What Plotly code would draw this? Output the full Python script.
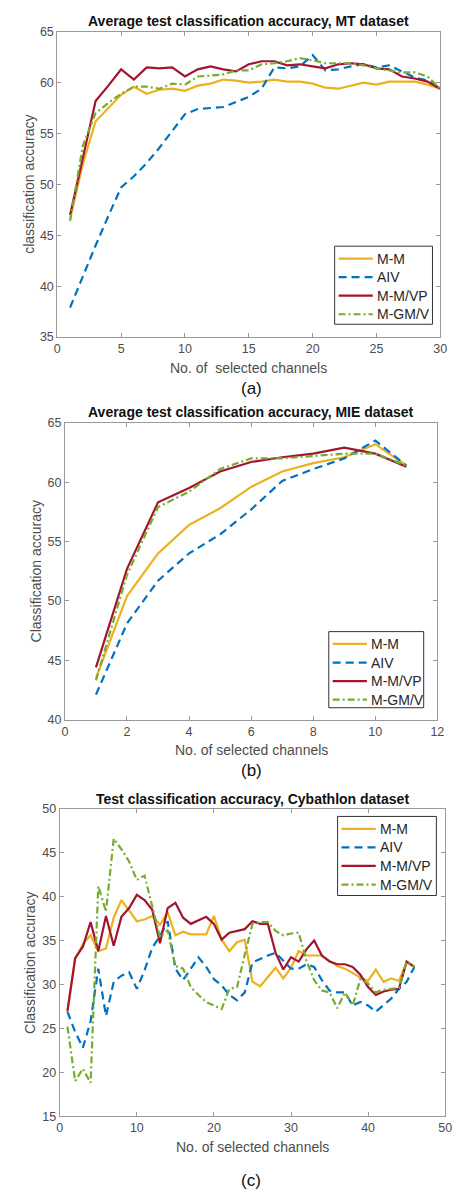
import plotly.graph_objects as go

# ---- data -------------------------------------------------------------
series_names = ["M-M", "AIV", "M-M/VP", "M-GM/V"]

mt_channels = list(range(1, 31))
mt_mm = [46.6, 52.0, 56.2, 57.5, 58.8, 59.6, 58.9, 59.3, 59.4, 59.2,
         59.7, 59.9, 60.3, 60.2, 60.0, 60.1, 60.3, 60.1, 60.1, 59.9,
         59.5, 59.4, 59.7, 60.0, 59.8, 60.1, 60.1, 60.1, 59.8, 59.4]
mt_aiv = [37.9, 41.0, 44.0, 46.9, 49.7, 50.8, 52.1, 53.6, 55.3, 56.9,
          57.4, 57.5, 57.6, 58.1, 58.6, 59.4, 61.5, 61.4, 61.6, 62.7,
          61.2, 61.3, 61.6, 61.8, 61.5, 61.7, 61.1, 60.5, 60.2, 59.4]
mt_mmvp = [47.0, 52.5, 58.2, 59.7, 61.3, 60.3, 61.5, 61.4, 61.5, 60.6,
           61.3, 61.6, 61.3, 61.1, 61.8, 62.1, 62.1, 61.7, 61.8, 61.6,
           61.4, 61.8, 61.9, 61.8, 61.4, 61.3, 60.6, 60.4, 60.1, 59.4]
mt_mgmv = [46.4, 53.8, 57.0, 58.0, 58.9, 59.6, 59.6, 59.4, 59.9, 59.8,
           60.6, 60.7, 60.8, 61.2, 61.2, 61.8, 61.9, 62.1, 62.4, 62.2,
           61.9, 61.9, 61.9, 61.7, 61.4, 61.2, 61.0, 61.0, 60.6, 59.4]

mie_channels = list(range(1, 12))
mie_mm = [43.5, 50.4, 54.0, 56.4, 57.8, 59.6, 60.9, 61.6, 62.1, 63.2, 61.4]
mie_aiv = [42.1, 48.1, 51.7, 54.0, 55.6, 57.7, 60.1, 61.1, 62.0, 63.5, 61.4]
mie_mmvp = [44.4, 52.7, 58.3, 59.5, 60.9, 61.7, 62.1, 62.4, 62.9, 62.4, 61.3]
mie_mgmv = [43.3, 52.2, 57.9, 59.2, 61.1, 62.0, 62.0, 62.2, 62.4, 62.4, 61.4]

cy_channels = list(range(1, 47))
cy_mm = [26.9, 32.9, 34.6, 35.6, 33.8, 34.1, 37.6, 39.6, 38.4, 37.2,
         37.4, 37.8, 36.8, 38.2, 35.6, 36.0, 35.7, 35.7, 35.7, 37.8,
         35.1, 33.8, 34.8, 35.1, 30.3, 29.8, 30.8, 31.9, 30.7, 31.9,
         33.8, 33.3, 33.3, 33.3, 32.7, 32.1, 31.8, 31.3, 30.8, 30.4,
         31.7, 30.3, 30.7, 30.4, 32.5, 32.0]
cy_aiv = [26.9, 24.6, 22.8, 25.8, 31.8, 26.4, 30.3, 31.0, 31.4, 29.5,
          31.6, 34.2, 35.5, 37.2, 31.8, 30.5, 31.8, 33.1, 32.0, 30.6,
          29.9, 28.8, 28.2, 29.1, 32.5, 32.9, 33.3, 33.6, 32.7, 31.8,
          31.8, 32.3, 32.0, 30.5, 29.3, 29.1, 29.1, 27.6, 28.0, 27.6,
          26.9, 27.6, 28.4, 29.5, 30.3, 32.0]
cy_mmvp = [27.0, 33.0, 34.3, 37.1, 33.8, 37.8, 34.4, 37.7, 38.7, 40.2,
           39.6, 38.5, 34.7, 38.7, 39.3, 37.6, 36.9, 37.3, 37.7, 36.9,
           35.1, 35.9, 36.1, 36.3, 37.2, 36.9, 36.9, 33.6, 31.7, 33.1,
           32.6, 34.0, 35.0, 33.3, 32.6, 32.3, 32.3, 32.0, 31.1, 29.7,
           28.8, 29.2, 29.4, 29.5, 32.6, 32.0]
cy_mgmv = [25.2, 19.0, 20.4, 18.8, 41.2, 38.3, 46.6, 45.4, 44.0, 41.9,
           42.4, 38.8, 35.4, 36.2, 32.1, 31.8, 29.7, 28.8, 28.0, 27.6,
           27.2, 29.5, 29.7, 33.4, 36.9, 37.1, 37.1, 36.1, 35.6, 35.8,
           35.9, 32.7, 30.5, 29.3, 29.1, 27.3, 29.1, 27.6, 30.6, 30.1,
           29.1, 29.4, 29.5, 29.6, 32.6, 32.0]

# ---- styling ----------------------------------------------------------
COLORS = ["#EDB120", "#0072BD", "#A2142F", "#77AC30"]
DASHES = ["solid", "8px,5px", "solid", "7px,3px,2px,3px"]
FONT = "Liberation Sans, Arial, sans-serif"
TEXT_COL = "#262626"
TICK_COL = "#4d4d4d"
AXIS_COL = "#9a9a9a"
LINE_W = 2.2

W, H = 461, 1199


def px_x(p):
    return p / W


def px_y(p):
    return 1 - p / H


panels = [
    dict(x=mt_channels, ys=[mt_mm, mt_aiv, mt_mmvp, mt_mgmv],
         box=(55.5, 447, 25, 334), xr=[0, 30], xd=5, yr=[35, 65], yd=5,
         title="Average test classification accuracy, MT dataset", ty=14,
         xlab="No. of  selected channels", xly=365, ylab="classification accuracy",
         ylx=27, tag="(a)", tagy=386, leg=(339, 242, 100, 79)),
    dict(x=mie_channels, ys=[mie_mm, mie_aiv, mie_mmvp, mie_mgmv],
         box=(63.3, 444, 420.7, 721), xr=[0, 12], xd=2, yr=[40, 65], yd=5,
         title="Average test classification accuracy, MIE dataset", ty=410,
         xlab="No. of selected channels", xly=752, ylab="Classification accuracy",
         ylx=34, tag="(b)", tagy=773, leg=(333, 632, 97, 77)),
    dict(x=cy_channels, ys=[cy_mm, cy_aiv, cy_mmvp, cy_mgmv],
         box=(58, 452, 811.3, 1122.3), xr=[0, 50], xd=10, yr=[15, 50], yd=5,
         title="Test classification accuracy, Cybathlon dataset", ty=801,
         xlab="No. of selected channels", xly=1153, ylab="Classification accuracy",
         ylx=27, tag="(c)", tagy=1187, leg=(342, 819, 101, 80)),
]

fig = go.Figure()
annotations = []
shapes = []
layout = {}

for i, p in enumerate(panels):
    n = "" if i == 0 else str(i + 1)
    xa, ya = "x" + n, "y" + n
    for name, ys, col, dash in zip(series_names, p["ys"], COLORS, DASHES):
        fig.add_trace(go.Scatter(
            x=p["x"], y=ys, name=name, mode="lines",
            line=dict(color=col, width=LINE_W, dash=dash),
            xaxis=xa, yaxis=ya, showlegend=False,
        ))
    x0, x1, y0, y1 = p["box"]
    common = dict(showgrid=False, zeroline=False, showline=True, mirror="ticks",
                  linecolor=AXIS_COL, linewidth=1, ticks="inside", ticklen=4,
                  tickcolor=AXIS_COL, tickfont=dict(family=FONT, size=12.5, color=TICK_COL))
    layout["xaxis" + n] = dict(domain=[px_x(x0), px_x(x1)], range=p["xr"], dtick=p["xd"],
                               tick0=0, anchor=ya, **common)
    layout["yaxis" + n] = dict(domain=[px_y(y1), px_y(y0)], range=p["yr"], dtick=p["yd"],
                               tick0=0, anchor=xa, **common)

    # boxed legend in the panel corner
    lx, ly, lw, lh = p["leg"]
    shapes.append(dict(type="rect", xref="paper", yref="paper",
                       x0=px_x(lx), x1=px_x(lx + lw), y0=px_y(ly + lh), y1=px_y(ly),
                       line=dict(color="#333333", width=1), fillcolor="white", layer="above"))
    for k, (name, col, dash) in enumerate(zip(series_names, COLORS, DASHES)):
        ey = ly + 12.5 + 18.8 * k
        shapes.append(dict(type="line", xref="paper", yref="paper",
                           x0=px_x(lx + 4), x1=px_x(lx + 39), y0=px_y(ey), y1=px_y(ey),
                           line=dict(color=col, width=LINE_W, dash=dash), layer="above"))
        annotations.append(dict(text=name, x=px_x(lx + 41), y=px_y(ey), xanchor="left",
                                font=dict(family=FONT, size=14, color=TEXT_COL)))

    cx = (x0 + x1) / 2
    annotations += [
        dict(text="<b>" + p["title"] + "</b>", x=px_x(cx), y=px_y(p["ty"]),
             font=dict(family=FONT, size=14, color="#111111")),
        dict(text=p["xlab"], x=px_x(cx), y=px_y(p["xly"]),
             font=dict(family=FONT, size=14, color=TICK_COL)),
        dict(text=p["ylab"], x=px_x(p["ylx"]), y=px_y((y0 + y1) / 2), textangle=-90,
             font=dict(family=FONT, size=14, color=TICK_COL)),
        dict(text=p["tag"], x=px_x(254), y=px_y(p["tagy"]),
             font=dict(family=FONT, size=17, color="#111111")),
    ]

for a in annotations:
    a.setdefault("xanchor", "center")
    a.update(xref="paper", yref="paper", showarrow=False, yanchor="middle")

fig.update_layout(
    width=W, height=H, margin=dict(l=0, r=0, t=0, b=0),
    paper_bgcolor="white", plot_bgcolor="white", showlegend=False,
    annotations=annotations, shapes=shapes, **layout,
)

fig.write_html("out.html")
